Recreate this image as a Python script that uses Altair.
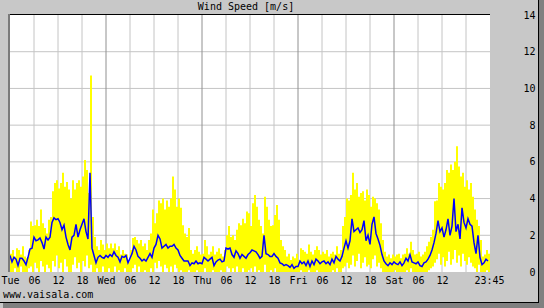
import altair as alt
import pandas as pd

# 30-minute samples, Tue 00:00 .. Sat 23:30
mean_ws = [
    0.9,0.55,0.8,0.7,0.35,0.75,0.75,0.6,0.4,0.8,
    1.25,1.3,1.9,1.7,1.75,1.85,1.6,1.25,1.9,1.75,
    1.9,2.7,2.95,2.85,2.9,2.7,2.3,2.55,1.9,1.5,
    1.2,1.9,2.0,2.6,1.9,2.3,2.6,2.9,2.2,1.8,
    5.4,1.3,0.9,0.5,0.8,0.9,0.8,0.75,0.9,0.8,
    0.95,0.85,1.1,0.9,0.8,0.55,0.85,0.8,0.9,0.5,
    0.75,1.0,1.4,1.2,0.85,0.75,0.6,0.7,0.6,0.8,
    1.0,0.8,1.3,1.5,2.0,1.8,1.3,1.4,1.5,1.3,
    1.4,1.4,1.5,1.3,1.2,0.9,0.75,0.6,0.6,0.6,
    0.35,0.5,0.45,0.6,0.45,0.5,0.45,0.8,0.7,0.6,
    0.7,0.8,0.35,0.55,0.65,0.7,0.55,0.6,1.3,1.25,
    1.3,0.95,0.8,1.15,1.0,0.75,0.95,0.85,0.75,0.95,
    1.05,1.2,1.15,1.1,0.95,0.75,0.85,2.0,1.0,0.95,
    0.85,0.85,1.0,0.85,0.75,0.5,0.45,0.35,0.4,0.35,
    0.25,0.4,0.2,0.3,0.3,0.6,0.45,0.55,0.35,0.6,
    0.3,0.6,0.4,0.7,0.6,0.45,0.55,0.6,0.45,0.55,
    0.4,0.7,0.5,0.85,0.7,0.6,0.85,1.3,1.7,1.3,
    1.7,2.9,2.2,2.3,2.4,2.15,2.3,2.8,1.7,2.0,
    1.5,2.6,3.0,2.1,1.8,1.45,0.95,0.6,0.45,0.35,
    0.5,0.4,0.55,0.45,0.4,0.55,0.35,0.5,0.75,0.6,
    0.95,0.55,0.5,0.45,0.55,0.35,0.3,0.5,0.55,0.7,
    0.9,1.2,1.6,2.1,2.8,2.2,2.4,1.9,2.3,2.9,
    2.0,2.5,4.0,2.2,2.6,1.8,3.5,2.7,2.4,2.9,
    2.6,2.5,1.6,1.0,2.0,0.8,0.4,0.5,0.7,0.6,
]
max_ws = [
    1.0,1.2,0.85,1.3,1.2,0.95,1.4,0.85,0.75,1.2,
    2.75,2.5,2.55,2.85,2.5,3.4,2.65,2.4,2.1,2.85,
    3.0,4.4,4.85,5.0,4.55,4.85,5.4,4.65,4.9,4.5,
    4.0,5.0,4.5,4.85,5.0,4.65,5.2,6.1,5.55,4.3,
    10.7,3.0,1.9,1.4,1.2,1.75,1.5,1.2,1.55,1.3,
    1.55,1.3,1.55,1.2,1.4,0.95,1.2,1.0,0.95,0.55,
    1.2,1.85,1.9,1.75,1.55,1.75,1.4,1.55,1.2,1.75,
    2.1,3.4,2.65,3.2,3.9,3.75,4.0,3.4,3.9,3.55,
    4.0,5.2,4.5,3.55,4.0,3.5,2.55,2.1,1.9,2.4,
    1.2,1.0,1.2,1.4,1.1,0.95,1.0,1.75,1.4,0.95,
    1.1,1.4,0.95,1.1,1.3,1.0,0.85,1.2,2.0,2.5,
    1.9,2.0,1.75,2.3,2.65,2.55,2.9,2.65,3.3,3.2,
    2.5,3.75,4.2,3.55,2.85,2.5,2.1,4.1,3.55,2.85,
    2.5,2.55,3.1,3.65,2.85,1.75,1.4,1.2,0.85,1.0,
    0.65,0.85,0.75,1.0,0.65,1.3,1.2,1.1,1.0,1.5,
    1.1,0.95,1.2,1.4,1.2,0.95,1.1,1.0,1.2,0.85,
    1.0,1.1,0.95,1.4,1.0,1.2,2.5,3.0,4.0,3.9,
    4.2,5.4,4.5,4.85,4.1,4.3,4.4,3.9,4.5,4.2,
    3.55,4.1,4.0,3.75,3.4,2.65,1.75,1.1,0.85,0.95,
    0.75,0.95,0.85,0.95,1.0,0.75,0.95,1.0,1.3,1.0,
    1.65,1.2,0.95,1.0,1.1,0.85,0.95,1.1,1.4,1.65,
    1.9,2.3,3.85,3.9,4.85,4.65,4.5,4.85,5.55,5.4,
    5.85,5.55,6.0,6.85,5.75,5.2,5.4,4.65,5.0,4.5,
    4.85,4.1,3.4,2.85,2.5,1.75,0.85,0.95,1.2,1.0,
]
min_ws = [
    0,0,0.2,0,0,0.3,0,0,0,0.2,
    0.3,0,0.5,0.2,0,0.6,0.3,0,0.4,0.2,
    0,0.6,0.3,0.9,0.2,0.5,0,0.7,0.3,0,
    0,0.4,0.8,0.2,0.5,0,0.6,0.3,0.9,0.2,
    0.4,0,0,0.2,0,0,0.3,0,0,0.2,
    0,0,0.3,0,0.1,0,0,0.2,0,0,
    0,0.2,0.4,0,0.3,0,0,0.1,0,0,
    0.2,0,0.5,0.2,0.6,0.3,0,0.4,0.2,0,
    0.3,0,0.4,0.2,0,0.1,0,0,0,0.1,
    0,0,0,0.1,0,0,0,0.2,0,0,
    0,0.1,0,0,0,0.1,0,0,0.3,0.2,
    0,0.2,0,0.3,0,0,0.2,0,0,0.1,
    0.2,0,0.3,0,0.1,0,0,0.4,0,0,
    0.1,0,0.2,0,0,0,0,0,0,0,
    0,0,0,0,0,0.1,0,0,0,0.1,
    0,0,0,0.1,0,0,0,0,0,0,
    0,0.1,0,0.2,0,0,0.2,0.3,0.5,0.2,
    0.4,0.9,0.3,0.6,1.0,0.2,0.5,0.8,0.3,0.4,
    0.2,0.7,0.9,0.3,0.5,0.2,0,0,0,0,
    0,0,0.1,0,0,0,0,0,0.1,0,
    0.2,0,0,0,0,0,0,0,0,0.1,
    0.2,0.3,0.5,0.7,1.0,0.4,0.8,0.3,0.6,1.1,
    0.4,0.7,1.2,0.5,0.9,0.3,1.0,0.6,0.4,0.8,
    0.5,0.3,0.2,0,0.4,0,0,0,0.1,0,
]
day_names = ["Tue", "Wed", "Thu", "Fri", "Sat"]
x_tick_hours = list(range(0, 114, 6)) + [119.75]
y_ticks = [0, 2, 4, 6, 8, 10, 12, 14]
title_text = "Wind Speed [m/s]"
site_text = "www.vaisala.com"

W, H = 480, 257
FONT = "DejaVu Sans Mono"
BG = "#C8C8C8"

df = pd.DataFrame({
    "h": [i * 0.5 for i in range(len(mean_ws))],
    "mean": mean_ws, "max": max_ws, "min": min_ws,
})
df["h2"] = df["h"] + 0.5

xs = alt.Scale(domain=[0, 120], nice=False, zero=False)
ys = alt.Scale(domain=[0, 14], nice=False)

label_expr = ("datum.value >= 119 ? '23:45' : (datum.value % 24 == 0 ? "
              "['Tue','Wed','Thu','Fri','Sat'][floor(datum.value/24)] : "
              "((datum.value % 24) < 10 ? '0' : '') + (datum.value % 24))")

x_axis = alt.Axis(values=x_tick_hours, labelExpr=label_expr, grid=False, domain=False,
                  ticks=False, tickSize=0, labelFont=FONT, labelFontSize=10,
                  labelColor="black", labelPadding=3, labelAngle=0, title=None,
                  labelOverlap=False, labelFlush=False, labelBound=False)
y_axis = alt.Axis(values=y_ticks, orient="right", grid=False, domain=False, ticks=False,
                  tickSize=0, labelFont=FONT, labelFontSize=10, labelColor="black",
                  labelAlign="right", labelBaseline="middle", labelPadding=45,
                  title=None, format="d", labelOverlap=False, labelBound=False,
                  labelFlush=False)


def X(field):
    return alt.X(field, scale=xs, axis=x_axis)


def Y(field):
    return alt.Y(field, scale=ys, axis=y_axis)


vgrid = pd.DataFrame({"g": [h for h in range(6, 120, 6) if h % 24 != 0]})
dgrid = pd.DataFrame({"g": [24, 48, 72, 96]})
hgrid = pd.DataFrame({"g": [2, 4, 6, 8, 10, 12]})

g1 = alt.Chart(vgrid).mark_rule(color="#C4C4C4", strokeWidth=1).encode(x=X("g:Q"))
g2 = alt.Chart(hgrid).mark_rule(color="#C4C4C4", strokeWidth=1).encode(y=Y("g:Q"))
g3 = alt.Chart(dgrid).mark_rule(color="#909090", strokeWidth=1).encode(x=X("g:Q"))

bars = alt.Chart(df).mark_rect(color="#FFFF00").encode(
    x=X("h:Q"), x2="h2:Q", y=Y("min:Q"), y2="max:Q")
line = alt.Chart(df).mark_line(color="#0000FF", strokeWidth=1.5).encode(
    x=X("h:Q"), y=Y("mean:Q"))

deco = alt.Chart(pd.DataFrame({"t": [title_text], "s": [site_text]}))
top_border = deco.mark_rect(color="black").encode(
    x=alt.value(-2), x2=alt.value(W), y=alt.value(-1), y2=alt.value(0))
left_border = deco.mark_rect(color="#7a7a7a").encode(
    x=alt.value(-2), x2=alt.value(0), y=alt.value(-1), y2=alt.value(H))
frame_r = deco.mark_rect(color="black").encode(
    x=alt.value(528), x2=alt.value(529), y=alt.value(-15), y2=alt.value(288))
frame_b = deco.mark_rect(color="black").encode(
    x=alt.value(-10), x2=alt.value(529), y=alt.value(287), y2=alt.value(288))
shadow_r = deco.mark_rect(color="#808080").encode(
    x=alt.value(529), x2=alt.value(534), y=alt.value(-15), y2=alt.value(293))
shadow_b = deco.mark_rect(color="#808080").encode(
    x=alt.value(-7), x2=alt.value(534), y=alt.value(288), y2=alt.value(293))
site = deco.mark_text(font=FONT, fontSize=10, align="left", baseline="middle",
                      color="black").encode(text="s:N", x=alt.value(-7), y=alt.value(280))
title = deco.mark_text(font=FONT, fontSize=10, align="center", baseline="bottom",
                       color="black").encode(text="t:N", x=alt.value(W / 2 - 4),
                                             y=alt.value(-3))

chart = alt.layer(g1, g2, g3, bars, line, top_border, left_border,
                  frame_r, frame_b, shadow_r, shadow_b, site, title).properties(
    width=W, height=H,
    autosize=alt.AutoSizeParams(type="none"),
    padding={"left": 10, "top": 15, "right": 54, "bottom": 36},
    background=BG,
).configure_view(fill="white", stroke=None)

chart.save("out.html", embed_options={"renderer": "svg", "actions": False})
